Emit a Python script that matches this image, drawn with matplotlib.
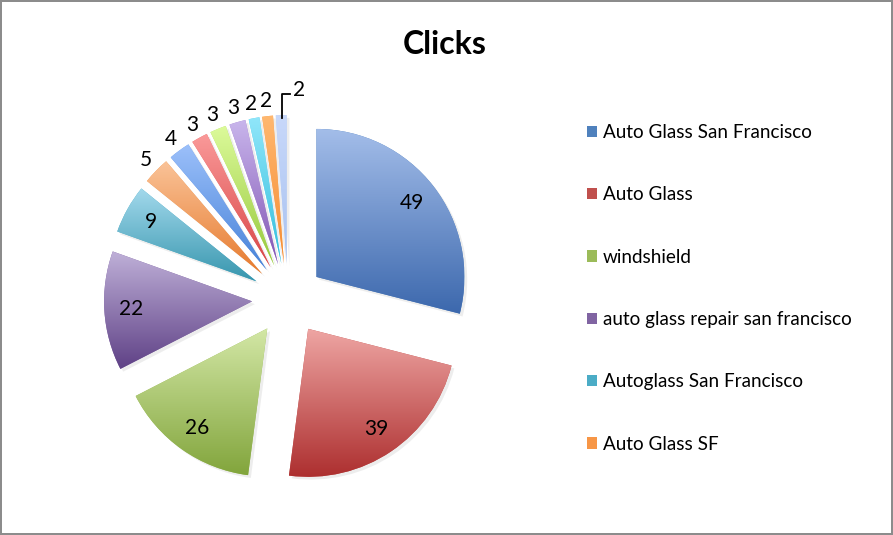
import numpy as np
import matplotlib.pyplot as plt
from matplotlib.colors import LinearSegmentedColormap
from matplotlib.patches import Shadow

plt.rcParams['font.family'] = ['Lato', 'DejaVu Sans']

values = [49, 39, 26, 22, 9, 5, 4, 3, 3, 3, 2, 2, 2]
legend_labels = ["Auto Glass San Francisco", "Auto Glass", "windshield",
                 "auto glass repair san francisco", "Autoglass San Francisco",
                 "Auto Glass SF"]

# gradient ends per slice (top -> bottom), base colour for legend
top_colors = ["#a3bde9", "#eea5a3", "#d3e7a6", "#bfb0d8", "#a3d9ec", "#fac398",
              "#9cc0fa", "#fa9a9a", "#dcfa9a", "#c9b6ec", "#90e6fa", "#ffb870",
              "#c8d8fa"]
bottom_colors = ["#3c68ad", "#ad2f2f", "#82a53c", "#5f4186", "#3796ae", "#e67a2e",
                 "#4682d8", "#d84646", "#96c83c", "#8256b4", "#32bedc", "#f58c32",
                 "#a8c2f0"]
base_colors = ["#4f81bd", "#c0504d", "#9bbb59", "#8064a2", "#4bacc6", "#f79646",
               "#6d9ce8", "#ea6b6b", "#b5e064", "#a37fd0", "#5cd0ec", "#fba24d",
               "#b6ccf4"]

R_PX = 148.0   # pie radius in pixels
HALF = 230.0   # half size of the pie axes in pixels
W, H = 893, 535

fig = plt.figure(figsize=(W / 100, H / 100), dpi=100,
                 edgecolor="#8c8c8c", linewidth=1.5)

cx, cy = 288, 535 - 299
ax = fig.add_axes([(cx - HALF) / W, (cy - HALF) / H, 2 * HALF / W, 2 * HALF / H])

wedges, _ = ax.pie(values, explode=[36 / R_PX] * len(values), startangle=90,
                   counterclock=False, colors=base_colors, radius=1,
                   wedgeprops=dict(linewidth=0))

grad = np.linspace(0, 1, 256).reshape(-1, 1)
for i, w in enumerate(wedges):
    sh = Shadow(w, 2 / R_PX, -2 / R_PX, alpha=0.1)
    sh.set_facecolor("#555555")
    sh.set_zorder(w.get_zorder() - 0.5)
    ax.add_patch(sh)
    ext = w.get_path().get_extents()
    cmap = LinearSegmentedColormap.from_list("g%d" % i, [bottom_colors[i], top_colors[i]])
    im = ax.imshow(grad, extent=(ext.x0, ext.x1, ext.y0, ext.y1), origin="lower",
                   cmap=cmap, aspect="auto", interpolation="bicubic",
                   zorder=w.get_zorder() + 0.1)
    im.set_clip_path(w)

# value labels
for i, w in enumerate(wedges):
    th = np.deg2rad((w.theta1 + w.theta2) / 2)
    x0, y0 = w.center
    if values[i] >= 9:
        r = 0.82
        ax.text(x0 + r * np.cos(th), y0 + r * np.sin(th), str(values[i]),
                ha="center", va="center", fontsize=15, zorder=5)
    elif i < len(values) - 1:
        r = 1.1
        ax.text(x0 + r * np.cos(th), y0 + r * np.sin(th), str(values[i]),
                ha="center", va="center", fontsize=15, zorder=5)
    else:
        # leader line for the last thin slice
        px = x0 + 0.99 * np.cos(th) + 0.005
        py = y0 + 0.99 * np.sin(th)
        ax.plot([px, px, px + 0.055], [py - 0.01, py + 0.155, py + 0.155],
                color="black", lw=1.3, zorder=5)
        ax.text(px + 0.075, py + 0.18, str(values[i]), ha="left", va="center",
                fontsize=15, zorder=5)

ax.set_xlim(-HALF / R_PX, HALF / R_PX)
ax.set_ylim(-HALF / R_PX, HALF / R_PX)
ax.axis("off")

fig.text(445 / W, 1 - 44 / H, "Clicks", ha="center", va="center",
         fontsize=23, fontweight="bold")

fig.legend(handles=wedges[:6], labels=legend_labels, loc="upper left",
           bbox_to_anchor=(587 / W, 1 - 124 / H), frameon=False, fontsize=13.6,
           handlelength=0.55, handleheight=0.55, handletextpad=0.3,
           labelspacing=2.4, borderaxespad=0, borderpad=0)

fig.savefig("out.png", dpi=100)
